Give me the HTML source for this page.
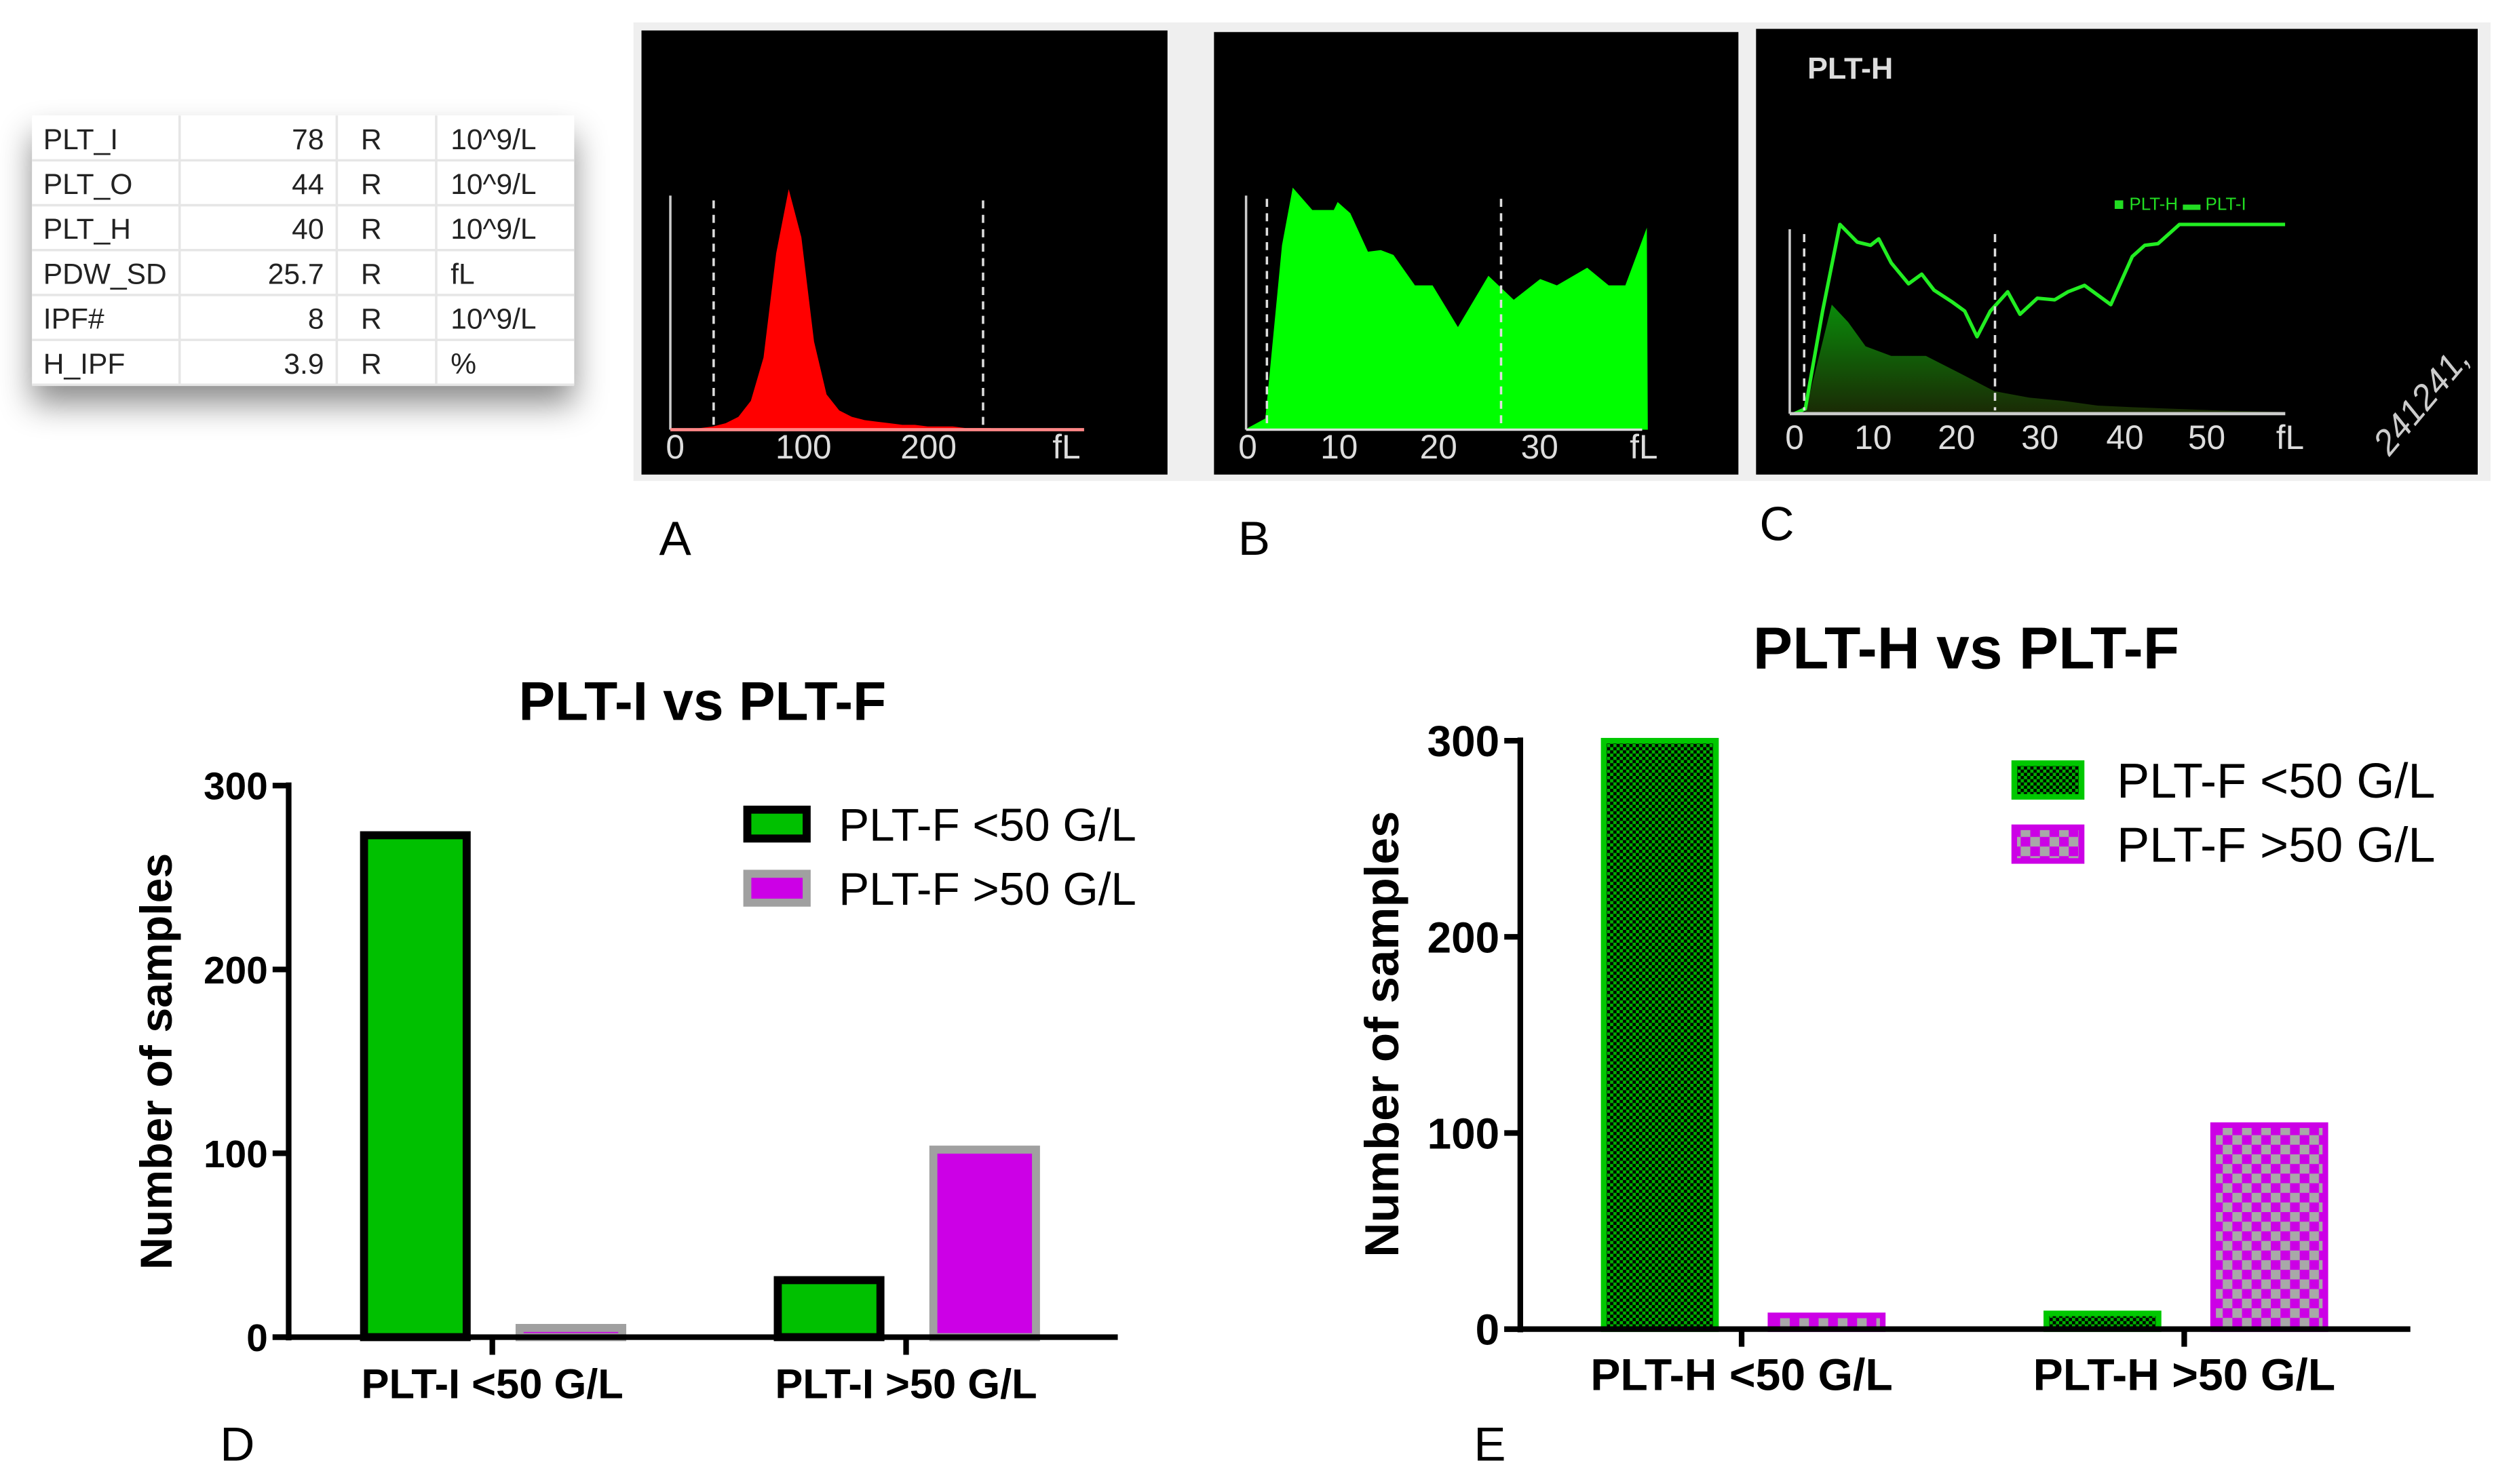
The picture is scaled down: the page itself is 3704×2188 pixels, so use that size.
<!DOCTYPE html>
<html><head><meta charset="utf-8"><style>
html,body{margin:0;padding:0;background:#fff;}
svg{display:block;}
text{font-family:"Liberation Sans",sans-serif;}
</style></head><body>
<svg id="fig" width="3704" height="2188" viewBox="0 0 1567 925.6" preserveAspectRatio="none" xmlns="http://www.w3.org/2000/svg">
<defs>
<filter id="shadow" x="-20%" y="-20%" width="140%" height="160%"><feDropShadow dx="0" dy="12" stdDeviation="10" flood-color="#000" flood-opacity="0.45"/></filter>
<pattern id="pg" width="4" height="4" patternUnits="userSpaceOnUse"><rect width="4" height="4" fill="#00b000"/><rect width="2" height="2" fill="#000"/><rect x="2" y="2" width="2" height="2" fill="#000"/></pattern>
<pattern id="pm" width="12" height="12" patternUnits="userSpaceOnUse"><rect width="12" height="12" fill="#cc00e6"/><rect width="6" height="6" fill="#a8a8a8"/><rect x="6" y="6" width="6" height="6" fill="#a8a8a8"/></pattern>
<linearGradient id="cg" x1="0" y1="0" x2="0" y2="1"><stop offset="0" stop-color="#0a8a0a"/><stop offset="1" stop-color="#1a2a05"/></linearGradient>
</defs>

<g>
<rect x="20" y="72" width="338" height="168" fill="#fff" filter="url(#shadow)"/>
<g id="tbl"></g>
</g>

<rect x="395" y="14" width="1158" height="286" fill="#efefef"/>
<rect x="400" y="19" width="328" height="277" fill="#000"/>
<rect x="757" y="20" width="327" height="276" fill="#000"/>
<rect x="1095" y="18" width="450" height="278" fill="#000"/>
<g id="hist"></g>

<text x="421" y="346" font-size="30" text-anchor="middle">A</text>
<text x="782" y="346" font-size="30" text-anchor="middle">B</text>
<text x="1108" y="337" font-size="30" text-anchor="middle">C</text>
<text x="148" y="911" font-size="30" text-anchor="middle">D</text>
<text x="929" y="911" font-size="30" text-anchor="middle">E</text>

<g id="chartD"></g>
<g id="chartE"></g>
</svg>
<script>
const tNames=["PLT_I","PLT_O","PLT_H","PDW_SD","IPF#","H_IPF"];
const tVals=["78","44","40","25.7","8","3.9"];
const tFlags=["R","R","R","R","R","R"];
const tUnits=["10^9/L","10^9/L","10^9/L","fL","10^9/L","%"];
const aX=[0,10,20,30,40,50,60,70,80,90,100,110,120,130,140,150,160,170,180,190,200,210,220,230,240,250];
const aH=[0,0,1,2,4,8,18,45,110,150,120,55,22,12,8,6,5,4,3,3,2,2,2,1,1,1];
const bX=[0,1.8,3.5,4.6,6.6,8.8,9.2,10.5,12.3,13.6,14.9,17.1,18.9,21.5,24.6,27.2,29.9,31.6,34.7,36.9,38.6,40.8,40.9];
const bH=[1,7,115,151,137,137,142,135,111,112,109,90,90,64,96,81,94,90,101,90,90,126,0];
const cLX=[0,1.3,3.4,5.5,7.6,9.2,10.2,11.7,13.8,15.4,16.9,19,20.6,22.1,23.7,25.8,27.3,29.4,31.5,33.1,35.1,38.3,40.9,42.4,44,46.6,59.4];
const cLH=[0,3,64,118,107,105,109,94,81,87,77,70,64,48,64,76,62,72,71,76,80,68,98,105,106,118,118];
const cFX=[0,1.3,4.5,6.5,8.6,11.7,15.9,20.1,24.2,28.4,32.5,36.7,40.9,51.2,59.4];
const cFH=[0,1,68,57,42,36,36,25,14,10,8,5,4,2,1];
const dCats=["PLT-I <50 G/L","PLT-I >50 G/L"];
const dLow=[273,31];
const dHigh=[5,102];
const eCats=["PLT-H <50 G/L","PLT-H >50 G/L"];
const eLow=[300,8];
const eHigh=[7,104];
const yTicks=[0,100,200,300];

const NS="http://www.w3.org/2000/svg";
function mk(tag,attrs,parent,txt){const e=document.createElementNS(NS,tag);for(const k in attrs)e.setAttribute(k,attrs[k]);if(txt!==undefined)e.textContent=txt;parent.appendChild(e);return e;}

(function(){
const g=document.getElementById('tbl');
for(let i=0;i<tNames.length;i++){
 const y=72+i*28;
 const l=mk('line',{x1:20,x2:358,y1:y+28,y2:y+28,stroke:'#e6e6e6','stroke-width':1.5},g);
 
 
 const t1=mk('text',{x:27,y:y+21,'font-size':18,fill:'#222',textLength:0},g,tNames[i]);
 t1.removeAttribute('textLength');
 
 
 const t2=mk('text',{x:202,y:y+21,'font-size':18,fill:'#222','text-anchor':'end'},g,tVals[i]);
 
 
 const t3=mk('text',{x:225,y:y+21,'font-size':18,fill:'#222'},g,tFlags[i]);
 
 
 const t4=mk('text',{x:281,y:y+21,'font-size':18,fill:'#222'},g,tUnits[i]);
 
 
}
[112,210,272].forEach(x=>{const v=mk('line',{x1:x,x2:x,y1:72,y2:240,stroke:'#e6e6e6','stroke-width':1.5},g);
 
 });
})();

(function(){
const g=document.getElementById('hist');
function area(xs,hs,sx,base,scale){let d='M'+sx(xs[0])+','+base;for(let i=0;i<xs.length;i++)d+=' L'+sx(xs[i]).toFixed(1)+','+(base-hs[i]*scale).toFixed(1);d+=' L'+sx(xs[xs.length-1])+','+base+' Z';return d;}
function line(xs,hs,sx,base){let d='';for(let i=0;i<xs.length;i++)d+=(i?' L':'M')+sx(xs[i]).toFixed(1)+','+(base-hs[i]).toFixed(1);return d;}
function lbl(x,y,t,n){const e=mk('text',{x:x,y:y,'font-size':21,fill:'#ddd','text-anchor':'middle','font-family':'Liberation Mono, monospace'},g,t);
 
 }
function dash(x,y1,y2){const e=mk('line',{x1:x,x2:x,y1:y1,y2:y2,stroke:'#ddd','stroke-width':1.5,'stroke-dasharray':'5,4'},g);
 
 }
const sA=v=>421+v*0.787;
let p=mk('path',{d:area(aX,aH,sA,268,1),fill:'#ff0000'},g);


mk('line',{x1:418,x2:418,y1:122,y2:268,stroke:'#ccc','stroke-width':1.5},g);
let bl=mk('line',{x1:418,x2:676,y1:268,y2:268,stroke:'#f88','stroke-width':2},g);


dash(445,125,266);dash(613,125,266);
lbl(421,286,'0','panel-a-tick');lbl(501,286,'100','panel-a-tick');lbl(579,286,'200','panel-a-tick');lbl(665,286,'fL','panel-a-unit');
const sB=v=>778+v*6.1;
p=mk('path',{d:area(bX,bH,sB,268,1),fill:'#00ff00'},g);


mk('line',{x1:777,x2:777,y1:122,y2:268,stroke:'#ccc','stroke-width':1.5},g);
mk('line',{x1:777,x2:1024,y1:268,y2:268,stroke:'#ddd','stroke-width':1.5},g);
dash(790,124,266);dash(936,124,266);
lbl(778,286,'0','panel-b-tick');lbl(835,286,'10','panel-b-tick');lbl(897,286,'20','panel-b-tick');lbl(960,286,'30','panel-b-tick');lbl(1025,286,'fL','panel-b-unit');
const sC=v=>1119+v*5.15;
p=mk('path',{d:area(cFX,cFH,sC,258,1),fill:'url(#cg)'},g);


p=mk('path',{d:line(cLX,cLH,sC,258),fill:'none',stroke:'#22ee22','stroke-width':2.2,'stroke-linejoin':'round'},g);


mk('line',{x1:1116,x2:1116,y1:143,y2:258,stroke:'#ccc','stroke-width':1.5},g);
mk('line',{x1:1116,x2:1425,y1:258,y2:258,stroke:'#ccc','stroke-width':2},g);
dash(1125,146,256);dash(1244,146,256);
lbl(1119,280,'0','panel-c-tick');lbl(1168,280,'10','panel-c-tick');lbl(1220,280,'20','panel-c-tick');lbl(1272,280,'30','panel-c-tick');lbl(1325,280,'40','panel-c-tick');lbl(1376,280,'50','panel-c-tick');lbl(1428,280,'fL','panel-c-unit');
let t=mk('text',{x:1127,y:49,'font-size':19,fill:'#ddd','font-family':'Liberation Mono, monospace','font-weight':'bold'},g,'PLT-H');


t=mk('text',{x:1318,y:131,'font-size':11,fill:'#22dd22'},g,'■ PLT-H   ▬ PLT-I');


t=mk('text',{x:1490,y:285,'font-size':22,fill:'#ccc',transform:'rotate(-50 1490 285)','font-family':'Liberation Serif, serif','font-style':'italic'},g,'241241,');


})();

function barChart(gid,o){
const g=document.getElementById(gid);
const ys=v=>o.y0-v*(o.y0-o.y300)/300;
const ti=mk('text',{x:o.titleX,y:o.titleY,'font-size':o.tfs,'font-weight':'bold','text-anchor':'middle'},g,o.title);


const yt=mk('text',{x:0,y:0,'font-size':o.yfs,'font-weight':'bold','text-anchor':'middle',transform:'translate('+o.ytX+','+o.ytY+') rotate(-90)'},g,'Number of samples');


for(let i=0;i<2;i++){
 const gc=o.groups[i];
 const r1=mk('rect',{x:gc+o.off1-o.bw/2,y:ys(o.low[i]),width:o.bw,height:o.y0-ys(o.low[i]),fill:o.lowFill,stroke:o.lowStroke,'stroke-width':o.sw},g);
 
 
 const r2=mk('rect',{x:gc+o.off2-o.bw/2,y:ys(o.high[i]),width:o.bw,height:o.y0-ys(o.high[i]),fill:o.highFill,stroke:o.highStroke,'stroke-width':o.sw},g);
 
 
 const tk=mk('line',{x1:gc,x2:gc,y1:o.y0,y2:o.y0+11,stroke:'#000','stroke-width':3.5},g);
 
 
 const xl=mk('text',{x:gc,y:o.y0+38,'font-size':o.xfs,'font-weight':'bold','text-anchor':'middle'},g,o.cats[i]);
 
 
}
const ya=mk('line',{x1:o.ax,x2:o.ax,y1:o.y300-2,y2:o.y0+2,stroke:'#000','stroke-width':3.5},g);


const xa=mk('line',{x1:o.ax-10,x2:o.xEnd,y1:o.y0,y2:o.y0,stroke:'#000','stroke-width':3.5},g);


yTicks.forEach(v=>{
 const l=mk('line',{x1:o.ax-10,x2:o.ax,y1:ys(v),y2:ys(v),stroke:'#000','stroke-width':3.5},g);
 
 
 const t=mk('text',{x:o.ax-13,y:ys(v)+o.tkfs*0.36,'font-size':o.tkfs,'font-weight':'bold','text-anchor':'end'},g,String(v));
 
 
});
const lg1=mk('rect',{x:o.lx,y:o.ly1,width:o.lw,height:o.lh,fill:o.lowFill,stroke:o.lowStroke,'stroke-width':o.sw},g);


const lt1=mk('text',{x:o.ltx,y:o.ly1+o.lh/2+o.lfs*0.36,'font-size':o.lfs},g,'PLT-F <50 G/L');


const lg2=mk('rect',{x:o.lx,y:o.ly2,width:o.lw,height:o.lh,fill:o.highFill,stroke:o.highStroke,'stroke-width':o.sw},g);


const lt2=mk('text',{x:o.ltx,y:o.ly2+o.lh/2+o.lfs*0.36,'font-size':o.lfs},g,'PLT-F >50 G/L');


}
barChart('chartD',{title:'PLT-I vs PLT-F',titleX:438,titleY:449,tfs:34,ytX:107,ytY:662,yfs:28,xfs:26,tkfs:24,lfs:28.5,ax:180,y0:834,y300:490,xEnd:697,
 groups:[307,565],off1:-48,off2:49,bw:64,sw:5,cats:dCats,low:dLow,high:dHigh,
 lowFill:'#00c000',lowStroke:'#000',highFill:'#cc00e6',highStroke:'#a0a0a0',
 lx:466,ly1:505,ly2:545,lw:37,lh:18,ltx:523});
barChart('chartE',{title:'PLT-H vs PLT-F',titleX:1226,titleY:417,tfs:37,ytX:872,ytY:645,yfs:30,xfs:28,tkfs:27,lfs:30.5,ax:948,y0:829,y300:462,xEnd:1503,
 groups:[1086,1362],off1:-51,off2:53,bw:70,sw:3.5,cats:eCats,low:eLow,high:eHigh,
 lowFill:'url(#pg)',lowStroke:'#00c800',highFill:'url(#pm)',highStroke:'#cc00e6',
 lx:1256,ly1:476,ly2:516,lw:42,lh:21,ltx:1320});
</script>
</body></html>
